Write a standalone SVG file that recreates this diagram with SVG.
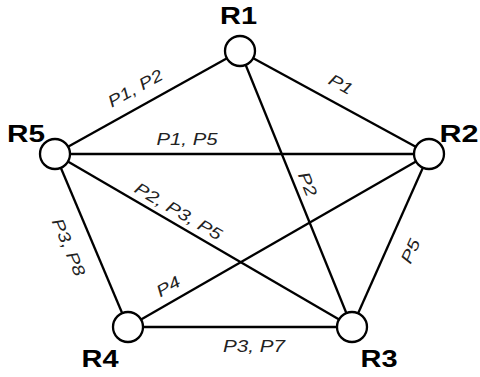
<svg xmlns="http://www.w3.org/2000/svg" width="480" height="377" viewBox="0 0 480 377">
<style>
.edge{stroke:#000;stroke-width:2.3;fill:none}
.node{fill:#fff;stroke:#000;stroke-width:2.3}
.nl{font-family:"Liberation Sans",Arial,sans-serif;font-weight:bold;font-size:24px;fill:#000;text-anchor:middle}
.el{font-family:"Liberation Sans",Arial,sans-serif;font-style:italic;font-size:16.5px;fill:#222;text-anchor:middle}
</style>
<rect width="480" height="377" fill="#fff"/>
<g id="connectors">
<line class="edge" x1="55" y1="154" x2="240" y2="51"/>
<line class="edge" x1="240" y1="51" x2="429" y2="154"/>
<line class="edge" x1="55" y1="154" x2="429" y2="154"/>
<line class="edge" x1="55" y1="154" x2="352" y2="327"/>
<line class="edge" x1="55" y1="154" x2="128" y2="327"/>
<line class="edge" x1="240" y1="51" x2="352" y2="327"/>
<line class="edge" x1="429" y1="154" x2="352" y2="327"/>
<line class="edge" x1="128" y1="327" x2="429" y2="154"/>
<line class="edge" x1="128" y1="327" x2="352" y2="327"/>
<g transform="translate(135,88) rotate(-29.1)"><text class="el" y="6" textLength="60" lengthAdjust="spacingAndGlyphs">P1, P2</text></g>
<g transform="translate(341,84) rotate(28.6)"><text class="el" y="6" textLength="25" lengthAdjust="spacingAndGlyphs">P1</text></g>
<text class="el" x="187" y="145" textLength="61" lengthAdjust="spacingAndGlyphs">P1, P5</text>
<g transform="translate(178.5,211) rotate(30.2)"><text class="el" y="6" textLength="98" lengthAdjust="spacingAndGlyphs">P2, P3, P5</text></g>
<g transform="translate(69,247) rotate(67.1)"><text class="el" y="6" textLength="61" lengthAdjust="spacingAndGlyphs">P3, P8</text></g>
<g transform="translate(308,184) rotate(67.9)"><text class="el" y="6" textLength="25" lengthAdjust="spacingAndGlyphs">P2</text></g>
<g transform="translate(410,251) rotate(-66)"><text class="el" y="6" textLength="25" lengthAdjust="spacingAndGlyphs">P5</text></g>
<g transform="translate(168,286) rotate(-29.9)"><text class="el" y="6" textLength="25" lengthAdjust="spacingAndGlyphs">P4</text></g>
<text class="el" x="254" y="352" textLength="62" lengthAdjust="spacingAndGlyphs">P3, P7</text>
</g>
<g id="R1"><circle class="node" cx="240" cy="51" r="15"/><text class="nl" x="238.5" y="24" textLength="37" lengthAdjust="spacingAndGlyphs">R1</text></g>
<g id="R2"><circle class="node" cx="429" cy="154" r="15"/><text class="nl" x="459" y="142" textLength="39" lengthAdjust="spacingAndGlyphs">R2</text></g>
<g id="R3"><circle class="node" cx="352" cy="327" r="15"/><text class="nl" x="379" y="367" textLength="37" lengthAdjust="spacingAndGlyphs">R3</text></g>
<g id="R4"><circle class="node" cx="128" cy="327" r="15"/><text class="nl" x="100" y="367" textLength="37" lengthAdjust="spacingAndGlyphs">R4</text></g>
<g id="R5"><circle class="node" cx="55" cy="154" r="15"/><text class="nl" x="26" y="142" textLength="38" lengthAdjust="spacingAndGlyphs">R5</text></g>
</svg>
